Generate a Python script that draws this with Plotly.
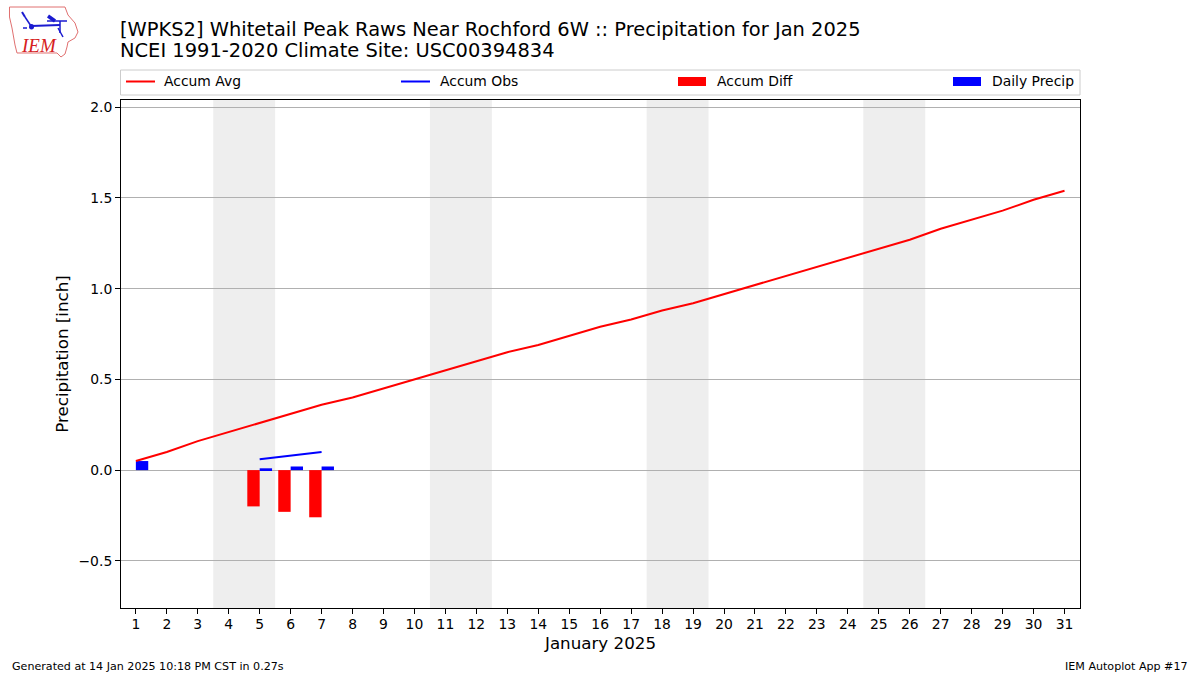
"""
IEM Autoplot 17: monthly precipitation accumulation for WPKS2
"""
import plotly.graph_objects as go

days = list(range(1, 32))
accum_avg = [0.05, 0.10, 0.16, 0.21, 0.26, 0.31, 0.36, 0.40, 0.45, 0.50, 0.55,
             0.60, 0.65, 0.69, 0.74, 0.79, 0.83, 0.88, 0.92, 0.97, 1.02, 1.07,
             1.12, 1.17, 1.22, 1.27, 1.33, 1.38, 1.43, 1.49, 1.54]
obs_days = [5, 6, 7]
accum_obs = [0.06, 0.08, 0.10]
accum_diff = [-0.20, -0.23, -0.26]
precip_days = [1, 5, 6, 7]
daily_precip = [0.05, 0.01, 0.02, 0.02]
weekends = [(3.5, 5.5), (10.5, 12.5), (17.5, 19.5), (24.5, 26.5)]

FONT = "DejaVu Sans"
L, R, T, B = 121, 1080, 100, 608


def px(x):
    return (x - L) / (R - L)


def py(y):
    return (B - y) / (B - T)


def path(points, close=False):
    d = "M" + " L".join(f"{px(x):.5f},{py(y):.5f}" for x, y in points)
    return d + (" Z" if close else "")


fig = go.Figure()
fig.add_trace(go.Bar(x=obs_days, y=accum_diff, width=0.4, offset=-0.4,
                     marker=dict(color="#ff0000", line_width=0), name="Accum Diff"))
fig.add_trace(go.Bar(x=precip_days, y=daily_precip, width=0.4, offset=0,
                     marker=dict(color="#0000ff", line_width=0), name="Daily Precip"))
fig.add_trace(go.Scatter(x=days, y=accum_avg, mode="lines", name="Accum Avg",
                         line=dict(color="#ff0000", width=2)))
fig.add_trace(go.Scatter(x=obs_days, y=accum_obs, mode="lines", name="Accum Obs",
                         line=dict(color="#0000ff", width=2)))

shapes = []
for start, end in weekends:
    shapes.append(dict(type="rect", xref="x", yref="paper", x0=start, x1=end, y0=0, y1=1,
                       fillcolor="#eeeeee", line_width=0, layer="below"))

# legend box drawn by hand, the items are spread over the whole axes width
shapes.append(dict(type="rect", xref="paper", yref="paper", x0=px(120.5), x1=px(1080), y0=py(95),
                   y1=py(70), line=dict(color="#cccccc", width=1), fillcolor="white"))
shapes.append(dict(type="line", xref="paper", yref="paper", x0=px(126), x1=px(155), y0=py(81.5),
                   y1=py(81.5), line=dict(color="#ff0000", width=2)))
shapes.append(dict(type="line", xref="paper", yref="paper", x0=px(401), x1=px(430), y0=py(81.5),
                   y1=py(81.5), line=dict(color="#0000ff", width=2)))
shapes.append(dict(type="rect", xref="paper", yref="paper", x0=px(678), x1=px(706), y0=py(86),
                   y1=py(77), fillcolor="#ff0000", line_width=0))
shapes.append(dict(type="rect", xref="paper", yref="paper", x0=px(953), x1=px(981), y0=py(86),
                   y1=py(77), fillcolor="#0000ff", line_width=0))

# logo
iowa = [(9.5, 7), (65, 7), (68, 15), (75, 23), (78, 32), (75, 38), (68, 42), (67, 47),
        (65, 54), (61, 57), (57, 53), (17, 53), (15, 45), (12, 28), (9.5, 17)]
shapes.append(dict(type="path", xref="paper", yref="paper", path=path(iowa, True),
                   line=dict(color="#e07070", width=1)))
blue = "#1a1ad0"
for seg, w in [([(31, 26), (60, 25)], 2), ([(25, 17), (31, 26)], 1.5), ([(22, 12), (25, 17)], 2),
               ([(48, 16), (55, 21)], 3.5), ([(60, 21), (60, 33)], 1.5), ([(47, 21), (67, 21)], 1.5),
               ([(58, 28), (63, 37)], 1.5), ([(23, 28), (27, 28)], 1.5)]:
    shapes.append(dict(type="path", xref="paper", yref="paper", path=path(seg),
                       line=dict(color=blue, width=w)))
shapes.append(dict(type="circle", xref="paper", yref="paper", x0=px(29), x1=px(34), y0=py(29.5),
                   y1=py(24), fillcolor=blue, line_width=0))


def label(x, y, text, size, anchor="left", **kw):
    return dict(xref="paper", yref="paper", x=px(x), y=py(y), text=text, showarrow=False,
                xanchor=anchor, yanchor="middle", font=dict(family=kw.pop("family", FONT), size=size,
                color=kw.pop("color", "black")), borderpad=0, **kw)


annotations = [
    label(118.5, 29, "[WPKS2] Whitetail Peak Raws Near Rochford 6W :: Precipitation for Jan 2025", 19.45),
    label(118.5, 50.5, "NCEI 1991-2020 Climate Site: USC00394834", 19.45),
    label(163, 81, "Accum Avg", 13.9),
    label(439, 81, "Accum Obs", 13.9),
    label(716, 81, "Accum Diff", 13.9),
    label(991, 81, "Daily Precip", 13.9),
    label(11, 666.5, "Generated at 14 Jan 2025 10:18 PM CST in 0.27s", 11.1),
    label(1189, 666.5, "IEM Autoplot App #17", 11.1, anchor="right"),
    label(20, 45.5, "<i>IEM</i>", 19, family="Liberation Serif", color="#d62020"),
]

axis_common = dict(showline=True, linecolor="black", linewidth=1, mirror=True, ticks="outside",
                   ticklen=5, tickwidth=1, tickcolor="black",
                   tickfont=dict(family=FONT, size=13.9, color="black"))

fig.update_layout(
    width=1200, height=675, autosize=False, showlegend=False, barmode="overlay",
    margin=dict(l=L, r=1200 - R, t=T, b=675 - B, autoexpand=False),
    paper_bgcolor="white", plot_bgcolor="white",
    shapes=shapes, annotations=annotations,
    xaxis=dict(range=[0.52, 31.5], tickmode="array", tickvals=days, showgrid=False, zeroline=False,
               ticklabelstandoff=-2,
               title=dict(text="January 2025", font=dict(family=FONT, size=16.7, color="black"), standoff=6),
               **axis_common),
    yaxis=dict(range=[-0.76, 2.04], tickmode="array", tickvals=[-0.5, 0, 0.5, 1.0, 1.5, 2.0],
               tickformat=".1f", showgrid=True, gridcolor="#b0b0b0", gridwidth=1,
               zeroline=True, zerolinecolor="#b0b0b0", zerolinewidth=1,
               title=dict(text="Precipitation [inch]", font=dict(family=FONT, size=16.7, color="black"), standoff=5),
               **axis_common),
)

# the page body has a default margin that would push the figure off by 8px
fig.write_html("out.html", post_script="document.body.style.margin='0';",
               config=dict(displayModeBar=False))
